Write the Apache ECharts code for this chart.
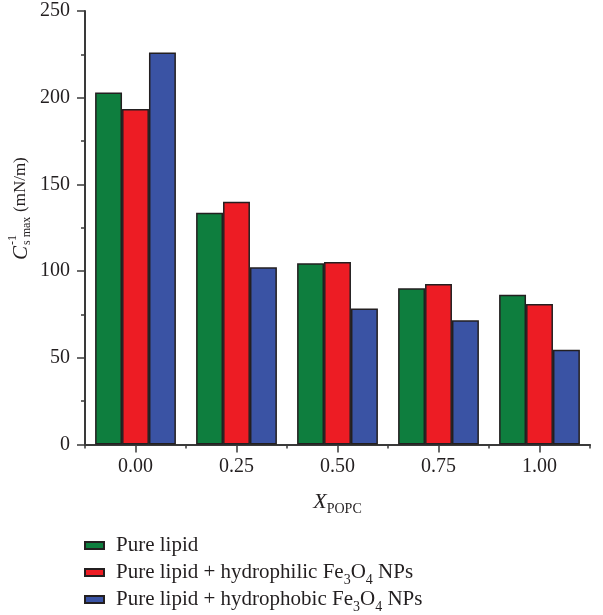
<!DOCTYPE html>
<html>
<head>
<meta charset="utf-8">
<script src="https://cdn.jsdelivr.net/npm/echarts@6/dist/echarts.min.js"></script>
<style>
  html, body { margin: 0; padding: 0; background: #fff; }
  #chart { width: 603px; height: 615px; }
</style>
</head>
<body>
<div id="chart"></div>
<script>
// Mole fraction of POPC in the monolayer
const categories = ['0.00', '0.25', '0.50', '0.75', '1.00'];

// Maximum compression modulus, mN/m
const pureLipid = [203.0, 133.7, 104.5, 90.1, 86.4];
const hydrophilicNPs = [193.5, 140.0, 105.2, 92.6, 81.0];
const hydrophobicNPs = [226.0, 102.2, 78.5, 71.6, 54.7];

const seriesNames = [
  'Pure lipid',
  'Pure lipid + hydrophilic Fe3O4 NPs',
  'Pure lipid + hydrophobic Fe3O4 NPs'
];
const seriesColors = ['#0e7e3e', '#ed1c24', '#3a53a4'];

const yTicks = { min: 0, max: 250, interval: 50 };

const FONT = 'Liberation Serif';
const INK = '#231f20';
const AXIS = '#3a3a3a';

const chart = echarts.init(document.getElementById('chart'), null, { renderer: 'canvas' });

const legendRich = {
  sub: { fontFamily: FONT, fontSize: 14, color: INK, verticalAlign: 'bottom', lineHeight: 20, padding: [0, 0, -5, 0] }
};

function legendLabel(name) {
  return name.replace('Fe3O4', 'Fe{sub|3}O{sub|4}');
}

// one legend row per series, stacked under the plot
function legendRow(i, top) {
  return {
    orient: 'vertical',
    left: 84,
    top: top,
    padding: 0,
    itemWidth: 19,
    itemHeight: 7,
    icon: 'rect',
    selectedMode: false,
    data: [seriesNames[i]],
    formatter: legendLabel,
    textStyle: {
      fontFamily: FONT,
      fontSize: 21,
      color: INK,
      lineHeight: 20,
      padding: [0, 0, 0, 7],
      rich: legendRich
    }
  };
}

function barSeries(i, data) {
  return {
    name: seriesNames[i],
    type: 'bar',
    xAxisIndex: 0,
    data: data,
    barGap: 0,
    barCategoryGap: '20%',
    itemStyle: { color: seriesColors[i], borderColor: INK, borderWidth: 1.5 },
    emphasis: { disabled: true }
  };
}

chart.setOption({
  backgroundColor: '#ffffff',
  animation: false,
  grid: { left: 85, top: 11, width: 505, height: 433.5, containLabel: false },
  legend: [legendRow(0, 535), legendRow(1, 562), legendRow(2, 589)],
  xAxis: [
    {
      type: 'category',
      data: categories,
      position: 'bottom',
      axisLine: { show: true, lineStyle: { color: AXIS, width: 2 } },
      axisTick: { show: true, alignWithLabel: true, length: 8, lineStyle: { color: AXIS, width: 1.5 } },
      axisLabel: { fontFamily: FONT, fontSize: 20, color: INK, margin: 12 },
      splitLine: { show: false },
      name: '{x|X}{s|POPC}',
      nameLocation: 'middle',
      nameGap: 46,
      nameTextStyle: {
        rich: {
          x: { fontFamily: FONT, fontStyle: 'italic', fontSize: 22, color: INK, lineHeight: 24, verticalAlign: 'middle' },
          s: { fontFamily: FONT, fontSize: 14, color: INK, lineHeight: 24, verticalAlign: 'bottom', padding: [0, 0, -2, 0] }
        }
      }
    },
    {
      // boundary ticks between the groups
      type: 'category',
      data: categories,
      position: 'bottom',
      gridIndex: 0,
      axisLine: { show: false },
      axisTick: { show: true, alignWithLabel: false, length: 4, lineStyle: { color: AXIS, width: 1.5 } },
      axisLabel: { show: false },
      splitLine: { show: false }
    }
  ],
  yAxis: {
    type: 'value',
    min: yTicks.min,
    max: yTicks.max,
    interval: yTicks.interval,
    axisLine: { show: true, lineStyle: { color: AXIS, width: 2 } },
    axisTick: { show: true, length: 8, lineStyle: { color: AXIS, width: 1.5 } },
    minorTick: { show: true, splitNumber: 2, length: 4, lineStyle: { color: AXIS, width: 1.5 } },
    axisLabel: { fontFamily: FONT, fontSize: 20, color: INK, margin: 15 },
    splitLine: { show: false },
    minorSplitLine: { show: false }
  },
  graphic: [
    {
      // rotated y-axis title: C with stacked -1 / "s max", then units
      type: 'group',
      x: 21,
      y: 260,
      rotation: Math.PI / 2,
      children: [
        { type: 'text', x: 0, y: 0, style: { text: 'C', fontFamily: FONT, fontStyle: 'italic', fontSize: 21, fill: INK, verticalAlign: 'middle', align: 'left' } },
        { type: 'text', x: 15, y: -8, style: { text: '-1', fontFamily: FONT, fontSize: 12, fill: INK, verticalAlign: 'middle', align: 'left' } },
        { type: 'text', x: 15, y: 6, style: { text: 's max', fontFamily: FONT, fontSize: 12, fill: INK, verticalAlign: 'middle', align: 'left' } },
        { type: 'text', x: 48, y: 0, style: { text: '(mN/m)', fontFamily: FONT, fontSize: 17, fill: INK, verticalAlign: 'middle', align: 'left' } }
      ]
    }
  ],
  series: [
    barSeries(0, pureLipid),
    barSeries(1, hydrophilicNPs),
    barSeries(2, hydrophobicNPs)
  ]
});
</script>
</body>
</html>
